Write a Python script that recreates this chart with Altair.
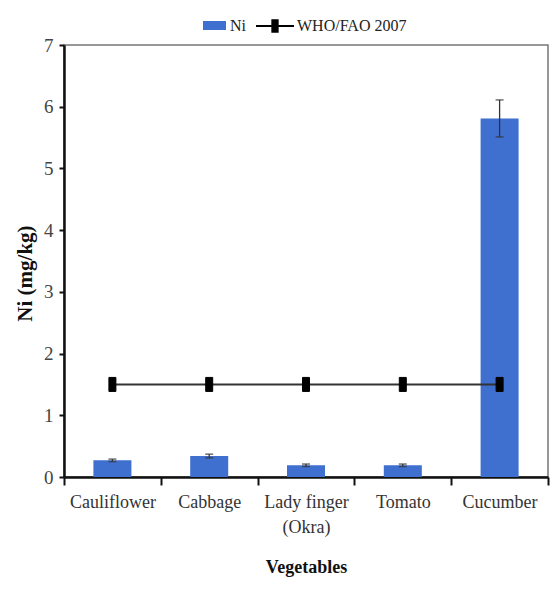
import altair as alt
import pandas as pd

# Nickel content in vegetables (mg/kg) with standard error, and the WHO/FAO 2007 limit
vegetables = ["Cauliflower", "Cabbage", "Lady finger (Okra)", "Tomato", "Cucumber"]
ni_mean = [0.27, 0.34, 0.19, 0.19, 5.81]
ni_err = [0.02, 0.03, 0.02, 0.02, 0.30]
who_fao_limit = [1.5, 1.5, 1.5, 1.5, 1.5]
y_ticks = [0, 1, 2, 3, 4, 5, 6, 7]

BLUE = "#3f6fcf"
FONT = "Liberation Serif"

df = pd.DataFrame({
    "veg": vegetables,
    "ni": ni_mean,
    "lo": [m - e for m, e in zip(ni_mean, ni_err)],
    "hi": [m + e for m, e in zip(ni_mean, ni_err)],
    "limit": who_fao_limit,
    "bar_key": ["Ni"] * len(vegetables),
    "line_key": ["WHO/FAO 2007"] * len(vegetables),
})

x_enc = alt.X(
    "veg:N",
    sort=vegetables,
    scale=alt.Scale(paddingInner=0, paddingOuter=0),
    axis=alt.Axis(
        title="Vegetables",
        titleFont=FONT, titleFontSize=18, titleFontWeight="bold", titleColor="#111",
        titleBaseline="alphabetic", titleY=95,
        labelFont=FONT, labelFontSize=18, labelColor="#333",
        labelExpr="datum.label == 'Lady finger (Okra)' ? ['Lady finger', '(Okra)'] : datum.label",
        labelLineHeight=25, labelPadding=8, labelAngle=0,
        tickBand="extent", tickSize=8, tickColor="#111", tickWidth=2,
        domainColor="#111", domainWidth=2.5,
    ),
)

y_scale = alt.Scale(domain=[0, 7], nice=False)

bar_shape = "M-1,-0.39 L1,-0.39 L1,0.39 L-1,0.39 Z"
line_legend_shape = "M-1,0 L1,0 M-0.14,-0.3 L0.14,-0.3 L0.14,0.3 L-0.14,0.3 Z"
marker_shape = "M-0.5,-1 L0.5,-1 L0.5,1 L-0.5,1 Z"

bars = alt.Chart(df).mark_bar(size=38).encode(
    x=x_enc,
    y=alt.Y(
        "ni:Q",
        scale=y_scale,
        axis=alt.Axis(
            title="Ni (mg/kg)",
            titleFont=FONT, titleFontSize=21, titleFontWeight="bold", titleColor="#111",
            titlePadding=8, titleY=228,
            values=y_ticks, format="d",
            labelFont=FONT, labelFontSize=19, labelColor="#444", labelPadding=6,
            tickSize=5, tickColor="#111", tickWidth=2,
            domainColor="#111", domainWidth=2.5, grid=False,
        ),
    ),
    color=alt.Color(
        "bar_key:N",
        scale=alt.Scale(domain=["Ni"], range=[BLUE]),
        legend=alt.Legend(
            title=None, orient="none", legendX=139, legendY=-31,
            symbolType=bar_shape, symbolSize=529, symbolStrokeWidth=0,
            labelFont=FONT, labelFontSize=16, labelColor="#222", labelOffset=4,
            padding=0,
        ),
    ),
)

err_rule = alt.Chart(df).mark_rule(color="#333", strokeWidth=1.3).encode(
    x=alt.X("veg:N", sort=vegetables), y="lo:Q", y2="hi:Q"
)
err_cap_hi = alt.Chart(df).mark_tick(color="#333", size=8, thickness=1.5).encode(
    x=alt.X("veg:N", sort=vegetables), y="hi:Q"
)
err_cap_lo = alt.Chart(df).mark_tick(color="#333", size=8, thickness=1.5).encode(
    x=alt.X("veg:N", sort=vegetables), y="lo:Q"
)

limit_line = alt.Chart(df).mark_line(color="#333", strokeWidth=2).encode(
    x=alt.X("veg:N", sort=vegetables), y="limit:Q"
)
limit_points = alt.Chart(df).mark_point(
    shape=marker_shape, size=196, filled=True, stroke="black", strokeWidth=1, opacity=1
).encode(
    x=alt.X("veg:N", sort=vegetables),
    y="limit:Q",
    fill=alt.Fill(
        "line_key:N",
        scale=alt.Scale(domain=["WHO/FAO 2007"], range=["black"]),
        legend=alt.Legend(
            title=None, orient="none", legendX=191, legendY=-39,
            symbolType=line_legend_shape, symbolSize=1444,
            symbolStrokeColor="black", symbolStrokeWidth=2,
            labelFont=FONT, labelFontSize=16, labelColor="#222", labelOffset=2,
            padding=0,
        ),
    ),
)

chart = (
    alt.layer(bars, err_rule, err_cap_hi, err_cap_lo, limit_line, limit_points)
    .resolve_scale(color="independent", fill="independent")
    .properties(
        width=484,
        height=432,
        padding={"left": 64, "top": 45, "right": 4, "bottom": 115},
        autosize=alt.AutoSizeParams(type="none"),
        background="white",
    )
    .configure_view(stroke="#777", strokeWidth=1.5)
)

chart.save("out.html", embed_options={"renderer": "svg", "actions": False})
